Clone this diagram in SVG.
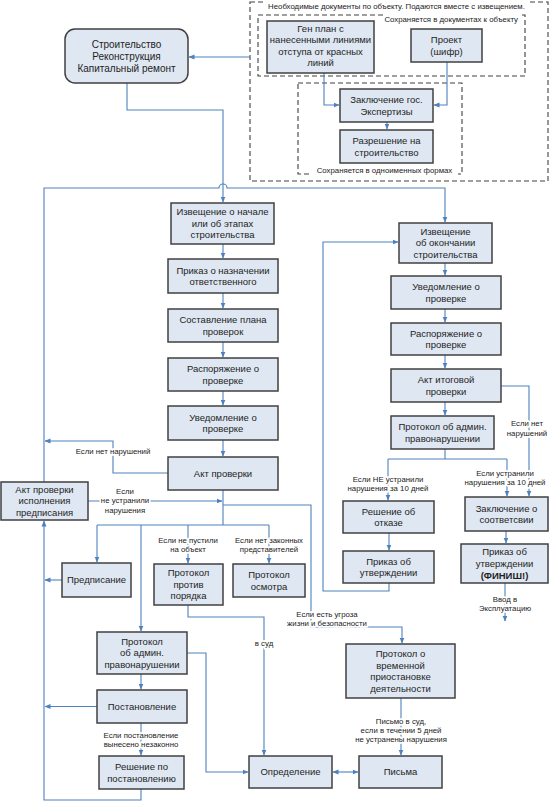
<svg xmlns="http://www.w3.org/2000/svg" width="552" height="804" viewBox="0 0 552 804">
<style>
.box{fill:#dfe7f2;stroke:#404040;stroke-width:1.5}
.dash{fill:none;stroke:#404040;stroke-width:1.1;stroke-dasharray:5 3}
.t{font-family:"Liberation Sans",Arial,sans-serif;font-size:9.5px;fill:#1e1e1e;text-anchor:middle}
.lb{font-family:"Liberation Sans",Arial,sans-serif;font-size:7.8px;fill:#222;text-anchor:middle}
.halo{stroke:#fff;stroke-width:3.5;stroke-linejoin:round;paint-order:stroke}
.c{fill:none;stroke:#4f81bd;stroke-width:1.1}
.a{marker-end:url(#arr)}
</style>
<defs>
<marker id="arr" markerUnits="userSpaceOnUse" markerWidth="6" markerHeight="6" refX="5.5" refY="3" orient="auto-start-reverse">
<path d="M0,0.5 L6,3 L0,5.5 z" fill="#4f81bd"/>
</marker>
</defs>
<rect width="552" height="804" fill="#fff"/>

<g id="docs-frame">
<rect class="dash" x="250" y="2" width="298" height="179"/>
<rect x="266" y="0" width="262" height="10" fill="#fff"/>
<text class="lb" x="396.5" y="8.8">Необходимые документы по объекту. Подаются вместе с извещением.</text>
<rect class="dash" x="258" y="15" width="267" height="61"/>
<rect x="385" y="13" width="135" height="11" fill="#fff"/>
<text class="lb" x="518" y="21.8" style="text-anchor:end">Сохраняется в документах к объекту</text>
<rect class="dash" x="298" y="83" width="164" height="91"/>
<rect x="311" y="165" width="147" height="11" fill="#fff"/>
<text class="lb" x="384.5" y="172.8">Сохраняется в одноименных формах</text>
</g>

<g id="connectors">
<path class="c a" d="M250,57 H189"/>
<path class="c a" d="M127,83 V110 H223 V202"/>
<path class="c a" d="M44,482 V188 H219 A4,4 0 0 1 227,188 H445 V222"/>
<path class="c a" d="M324,73 V105 H339"/>
<path class="c a" d="M447,62 V105 H434"/>
<path class="c a" d="M387,122 V129"/>
<path class="c a" d="M223,244 V258"/>
<path class="c a" d="M223,293 V308"/>
<path class="c a" d="M223,342 V357"/>
<path class="c a" d="M223,391 V405"/>
<path class="c a" d="M223,440 V456"/>
<path class="c a" d="M168,473 H113 V441 H45"/>
<path class="c" d="M223,490 V525 M97,525 H269"/>
<path class="c a" d="M97,525 V562"/>
<path class="c a" d="M141,525 V631"/>
<path class="c a" d="M188,525 V563"/>
<path class="c a" d="M269,525 V563"/>
<path class="c a" d="M88,501 H222"/>
<path class="c a" d="M223,505 H311 V627 H402 V643"/>
<path class="c a" d="M188,605 V617 H264 V755"/>
<path class="c a" d="M187,653 H206 V772 H248"/>
<path class="c a" d="M141,674 V689"/>
<path class="c a" d="M97,706.5 H45"/>
<path class="c a" d="M62,580 H45"/>
<path class="c a" d="M141,723 V755"/>
<path class="c a" d="M141,789 V800 H44 V521"/>
<path class="c a" d="M333,772 H358" marker-start="url(#arr)"/>
<path class="c a" d="M401,698 V755"/>
<path class="c a" d="M445,263 V275"/>
<path class="c a" d="M445,309 V322"/>
<path class="c a" d="M445,355 V368"/>
<path class="c a" d="M445,402 V415"/>
<path class="c a" d="M501,386 H529 V496"/>
<path class="c" d="M445,449 V459 M388,459 H507"/>
<path class="c a" d="M388,459 V500"/>
<path class="c a" d="M507,459 V496"/>
<path class="c a" d="M389,533 V550"/>
<path class="c a" d="M506,531 V543"/>
<path class="c a" d="M505,583 V621"/>
<path class="c a" d="M389,583 V591 H323 V242 H398"/>

<g id="connector-labels">
<text class="lb halo" x="113" y="453.8">Если нет нарушений</text>
<text class="lb halo" x="125" y="493.8">Если</text>
<text class="lb halo" x="125" y="503.3">не устранили</text>
<text class="lb halo" x="125" y="512.8">нарушения</text>
<text class="lb halo" x="188" y="542.8">Если не пустили</text>
<text class="lb halo" x="188" y="551.8">на объект</text>
<text class="lb halo" x="269" y="542.8">Если нет законных</text>
<text class="lb halo" x="269" y="551.8">представителей</text>
<text class="lb halo" x="264" y="645.8">в суд</text>
<text class="lb halo" x="141" y="737.8">Если постановление</text>
<text class="lb halo" x="141" y="746.8">вынесено незаконно</text>
<text class="lb halo" x="327" y="616.8">Если есть угроза</text>
<text class="lb halo" x="327" y="625.8">жизни и безопасности</text>
<text class="lb halo" x="401" y="723.8">Письмо в суд,</text>
<text class="lb halo" x="401" y="732.8">если в течении 5 дней</text>
<text class="lb halo" x="401" y="741.8">не устранены нарушения</text>
<text class="lb halo" x="527" y="425.8">Если нет</text>
<text class="lb halo" x="527" y="435.8">нарушений</text>
<text class="lb halo" x="388" y="481.8">Если НЕ устранили</text>
<text class="lb halo" x="388" y="490.8">нарушения за 10 дней</text>
<text class="lb halo" x="505" y="475.8">Если устранили</text>
<text class="lb halo" x="505" y="484.8">нарушения за 10 дней</text>
<text class="lb halo" x="505" y="601.8">Ввод в</text>
<text class="lb halo" x="505" y="610.8">Эксплуатацию</text>
</g>
</g>

<g id="start">
<rect class="box" x="65" y="29" width="123" height="54" rx="10"/>
<text class="t" style="font-size:10px" x="126.5" y="47.5">Строительство</text>
<text class="t" style="font-size:10px" x="126.5" y="59.5">Реконструкция</text>
<text class="t" style="font-size:10px" x="126.5" y="71.5">Капитальный ремонт</text>
</g>
<g id="genplan">
<rect class="box" x="267" y="21" width="107" height="52"/>
<text class="t" x="320.5" y="31.8">Ген план с</text>
<text class="t" x="320.5" y="43.3">нанесенными линиями</text>
<text class="t" x="320.5" y="54.8">отступа от красных</text>
<text class="t" x="320.5" y="66.3">линий</text>
</g>
<g id="proekt">
<rect class="box" x="411" y="29" width="71" height="33"/>
<text class="t" x="446.5" y="43.05">Проект</text>
<text class="t" x="446.5" y="54.55">(шифр)</text>
</g>
<g id="zakl-exp">
<rect class="box" x="340" y="89" width="93" height="33"/>
<text class="t" x="386.5" y="103.05">Заключение гос.</text>
<text class="t" x="386.5" y="114.55">Экспертизы</text>
</g>
<g id="razresh">
<rect class="box" x="340" y="130" width="93" height="33"/>
<text class="t" x="386.5" y="144.05">Разрешение на</text>
<text class="t" x="386.5" y="155.55">строительство</text>
</g>
<g id="izv-start">
<rect class="box" x="171" y="203" width="103" height="41"/>
<text class="t" x="222.5" y="215.3">Извещение о начале</text>
<text class="t" x="222.5" y="226.8">или об этапах</text>
<text class="t" x="222.5" y="238.3">строительства</text>
</g>
<g id="prikaz-otv">
<rect class="box" x="168" y="259" width="110" height="34"/>
<text class="t" x="223" y="273.55">Приказ о назначении</text>
<text class="t" x="223" y="285.05">ответственного</text>
</g>
<g id="sostav">
<rect class="box" x="168" y="309" width="110" height="33"/>
<text class="t" x="223" y="323.05">Составление плана</text>
<text class="t" x="223" y="334.55">проверок</text>
</g>
<g id="rasp-left">
<rect class="box" x="168" y="358" width="110" height="33"/>
<text class="t" x="223" y="372.05">Распоряжение о</text>
<text class="t" x="223" y="383.55">проверке</text>
</g>
<g id="uved-left">
<rect class="box" x="168" y="406" width="110" height="34"/>
<text class="t" x="223" y="420.55">Уведомление о</text>
<text class="t" x="223" y="432.05">проверке</text>
</g>
<g id="akt">
<rect class="box" x="168" y="457" width="110" height="33"/>
<text class="t" x="223" y="476.8">Акт проверки</text>
</g>
<g id="akt-isp">
<rect class="box" x="1" y="482" width="87" height="38"/>
<text class="t" x="44.5" y="492.8">Акт проверки</text>
<text class="t" x="44.5" y="504.3">исполнения</text>
<text class="t" x="44.5" y="515.8">предписания</text>
</g>
<g id="predpis">
<rect class="box" x="62" y="563" width="69" height="34"/>
<text class="t" x="96.5" y="583.3">Предписание</text>
</g>
<g id="prot-por">
<rect class="box" x="154" y="564" width="69" height="41"/>
<text class="t" x="188.5" y="576.3">Протокол</text>
<text class="t" x="188.5" y="587.8">против</text>
<text class="t" x="188.5" y="599.3">порядка</text>
</g>
<g id="prot-osm">
<rect class="box" x="233" y="564" width="72" height="33"/>
<text class="t" x="269" y="578.05">Протокол</text>
<text class="t" x="269" y="589.55">осмотра</text>
</g>
<g id="prot-adm-left">
<rect class="box" x="97" y="632" width="90" height="42"/>
<text class="t" x="142" y="644.8">Протокол</text>
<text class="t" x="142" y="656.3">об админ.</text>
<text class="t" x="142" y="667.8">правонарушении</text>
</g>
<g id="postan">
<rect class="box" x="97" y="690" width="90" height="33"/>
<text class="t" x="142" y="709.8">Постановление</text>
</g>
<g id="resh-post">
<rect class="box" x="99" y="756" width="85" height="33"/>
<text class="t" x="141.5" y="770.05">Решение по</text>
<text class="t" x="141.5" y="781.55">постановлению</text>
</g>
<g id="opred">
<rect class="box" x="249" y="756" width="83" height="32"/>
<text class="t" x="290.5" y="775.3">Определение</text>
</g>
<g id="pisma">
<rect class="box" x="359" y="756" width="83" height="32"/>
<text class="t" x="400.5" y="775.3">Письма</text>
</g>
<g id="prot-vrem">
<rect class="box" x="346" y="644" width="109" height="54"/>
<text class="t" x="400.5" y="657.05">Протокол о</text>
<text class="t" x="400.5" y="668.55">временной</text>
<text class="t" x="400.5" y="680.05">приостановке</text>
<text class="t" x="400.5" y="691.55">деятельности</text>
</g>
<g id="izv-end">
<rect class="box" x="399" y="223" width="93" height="40"/>
<text class="t" x="445.5" y="234.8">Извещение</text>
<text class="t" x="445.5" y="246.3">об окончании</text>
<text class="t" x="445.5" y="257.8">строительства</text>
</g>
<g id="uved-right">
<rect class="box" x="391" y="276" width="110" height="33"/>
<text class="t" x="446" y="290.05">Уведомление о</text>
<text class="t" x="446" y="301.55">проверке</text>
</g>
<g id="rasp-right">
<rect class="box" x="391" y="323" width="110" height="32"/>
<text class="t" x="446" y="336.55">Распоряжение о</text>
<text class="t" x="446" y="348.05">проверке</text>
</g>
<g id="akt-itog">
<rect class="box" x="391" y="369" width="110" height="33"/>
<text class="t" x="446" y="383.05">Акт итоговой</text>
<text class="t" x="446" y="394.55">проверки</text>
</g>
<g id="prot-adm-right">
<rect class="box" x="391" y="416" width="103" height="33"/>
<text class="t" x="442.5" y="430.05">Протокол об админ.</text>
<text class="t" x="442.5" y="441.55">правонарушении</text>
</g>
<g id="resh-otkaz">
<rect class="box" x="343" y="501" width="91" height="32"/>
<text class="t" x="388.5" y="514.55">Решение об</text>
<text class="t" x="388.5" y="526.05">отказе</text>
</g>
<g id="zakl">
<rect class="box" x="465" y="497" width="83" height="34"/>
<text class="t" x="506.5" y="511.55">Заключение о</text>
<text class="t" x="506.5" y="523.05">соответсвии</text>
</g>
<g id="prikaz-utv">
<rect class="box" x="343" y="551" width="91" height="32"/>
<text class="t" x="388.5" y="564.55">Приказ об</text>
<text class="t" x="388.5" y="576.05">утверждении</text>
</g>
<g id="prikaz-finish">
<rect class="box" x="461" y="544" width="87" height="39"/>
<text class="t" x="504.5" y="555.3">Приказ об</text>
<text class="t" x="504.5" y="566.8">утверждении</text>
<text class="t" x="504.5" y="578.8" style="font-weight:bold">(ФИНИШ!)</text>
</g>
</svg>
